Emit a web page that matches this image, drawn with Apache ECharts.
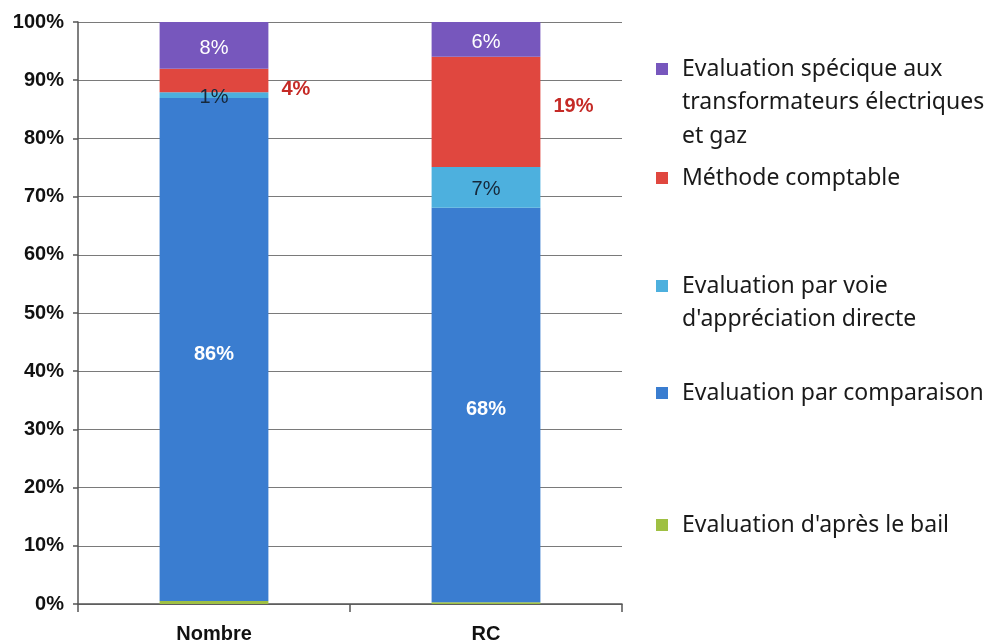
<!DOCTYPE html>
<html>
<head>
<meta charset="utf-8">
<script src="https://cdn.jsdelivr.net/npm/echarts@6/dist/echarts.min.js"></script>
<style>
  html, body { margin: 0; padding: 0; background: #fff; }
  #chart { width: 993px; height: 644px; }
</style>
</head>
<body>
<div id="chart"></div>
<script>
// Répartition des méthodes d'évaluation (colonnes empilées à 100 %)
const categories = ['Nombre', 'RC'];
const nameBail = "Evaluation d'après le bail";
const nameComparaison = 'Evaluation par comparaison';
const nameVoieDirecte = "Evaluation par voie d'appréciation directe";
const nameComptable = 'Méthode comptable';
const nameSpecifique = 'Evaluation spécique aux transformateurs électriques et gaz';

const bail = [0.5, 0.3];
const comparaison = [86, 68];
const voieDirecte = [1, 7];
const comptable = [4, 19];
const specifique = [8, 6];

const yTickValues = [0, 10, 20, 30, 40, 50, 60, 70, 80, 90, 100];

// Lignes de la légende (texte replié)
const legendLines = {};
legendLines[nameSpecifique] = ['Evaluation spécique aux', 'transformateurs électriques', 'et gaz'];
legendLines[nameComptable] = ['Méthode comptable'];
legendLines[nameVoieDirecte] = ['Evaluation par voie', "d'appréciation directe"];
legendLines[nameComparaison] = ['Evaluation par comparaison'];
legendLines[nameBail] = ["Evaluation d'après le bail"];

const stackRaw = [bail, comparaison, voieDirecte, comptable, specifique];
const totals = categories.map((c, i) => stackRaw.reduce((s, arr) => s + arr[i], 0));
const share = arr => arr.map((v, i) => v / totals[i] * 100);

const colors = {
  bail: '#9fc043',
  comparaison: '#3a7dd0',
  voie: '#4db0de',
  comptable: '#e0473f',
  specifique: '#7757bd'
};

const LH = 33.5;
function legendIcon(nLines) {
  const h = nLines * LH;
  const y0 = LH / 2 - 6;
  return 'path://M0,' + y0 + 'H12V' + (y0 + 12) + 'H0Z M0,0L0,0 M12,' + h + 'L12,' + h;
}
function legendFor(name, centerY) {
  const n = legendLines[name].length;
  return {
    data: [name],
    left: 656,
    top: centerY - LH / 2,
    orient: 'vertical',
    padding: 0,
    itemWidth: 12,
    itemHeight: n * LH,
    icon: legendIcon(n),
    selectedMode: false,
    formatter: nm => legendLines[nm].join('\n'),
    textStyle: {
      fontFamily: 'Noto Sans',
      fontSize: 23,
      color: '#1a1a1a',
      lineHeight: LH,
      padding: [0, 0, 0, 9]
    }
  };
}

const valueFont = 'Liberation Sans';

function makeSeries(name, raw, color, label) {
  return {
    name: name,
    type: 'bar',
    stack: 'total',
    barWidth: '40%',
    data: share(raw),
    itemStyle: { color: color },
    label: label ? Object.assign({
      show: true,
      fontFamily: valueFont,
      fontSize: 20,
      formatter: p => raw[p.dataIndex] + '%'
    }, label) : { show: false }
  };
}

const chart = echarts.init(document.getElementById('chart'), null, { renderer: 'canvas' });

const seriesComptable = makeSeries(nameComptable, comptable, colors.comptable, {
  position: 'right', distance: 13, color: '#c52a26', fontWeight: 'bold'
});
const comptableOffsets = [[0, 9], [0, -5]];
seriesComptable.data = seriesComptable.data.map((v, i) => ({ value: v, label: { offset: comptableOffsets[i] } }));

const option = {
  animation: false,
  backgroundColor: '#ffffff',
  grid: { left: 78, right: 371, top: 22, bottom: 40, containLabel: false },
  legend: [
    legendFor(nameSpecifique, 69),
    legendFor(nameComptable, 178),
    legendFor(nameVoieDirecte, 286),
    legendFor(nameComparaison, 393),
    legendFor(nameBail, 525)
  ],
  xAxis: {
    type: 'category',
    data: categories,
    boundaryGap: true,
    axisLine: { show: true, lineStyle: { color: '#555', width: 1.5 } },
    axisTick: { show: true, length: 8, alignWithLabel: false, lineStyle: { color: '#555', width: 1.5 } },
    axisLabel: {
      margin: 20,
      fontFamily: valueFont,
      fontWeight: 'bold',
      fontSize: 20,
      color: '#111'
    }
  },
  yAxis: {
    type: 'value',
    min: yTickValues[0],
    max: yTickValues[yTickValues.length - 1],
    interval: yTickValues[1] - yTickValues[0],
    axisLine: { show: true, lineStyle: { color: '#555', width: 1.5 } },
    axisTick: { show: true, length: 5, lineStyle: { color: '#555', width: 1.5 } },
    splitLine: { show: true, lineStyle: { color: '#7a7a7a', width: 1.2 } },
    axisLabel: {
      margin: 14,
      formatter: '{value}%',
      fontFamily: valueFont,
      fontWeight: 'bold',
      fontSize: 20,
      color: '#111'
    }
  },
  series: [
    makeSeries(nameBail, bail, colors.bail, null),
    makeSeries(nameComparaison, comparaison, colors.comparaison, {
      position: 'inside', color: '#ffffff', fontWeight: 'bold', offset: [0, 5]
    }),
    makeSeries(nameVoieDirecte, voieDirecte, colors.voie, {
      position: 'inside', color: '#16283a', fontWeight: 'normal', offset: [0, 2]
    }),
    seriesComptable,
    makeSeries(nameSpecifique, specifique, colors.specifique, {
      position: 'inside', color: '#ffffff', fontWeight: 'normal', offset: [0, 3]
    })
  ]
};

chart.setOption(option);
</script>
</body>
</html>
